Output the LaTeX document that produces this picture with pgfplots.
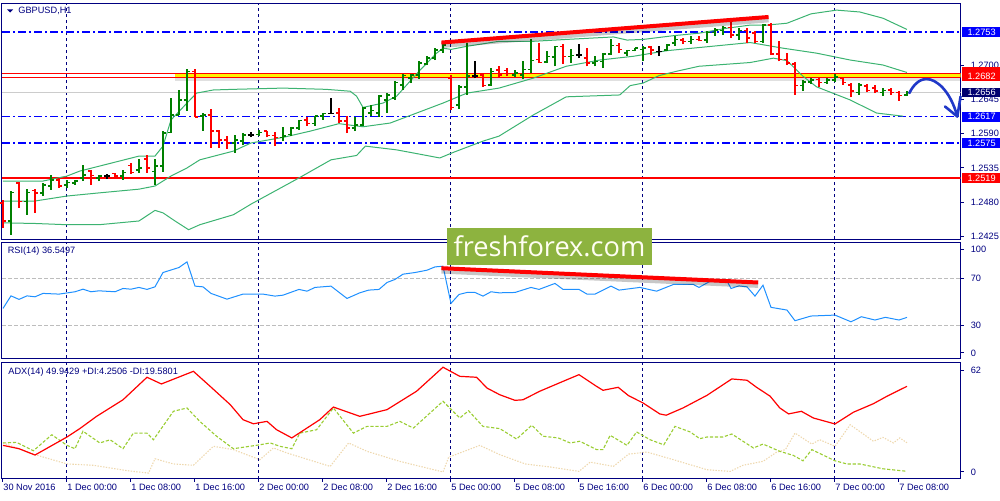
\documentclass[border=0pt]{standalone}
\usepackage{fontspec}
\setmainfont{Liberation Sans}
\newfontfamily\wmfont{Open Sans}
\usepackage{pgfplots}
\usepackage{pgfplotstable}
\pgfplotsset{compat=1.18}

\definecolor{mtnavy}{HTML}{000080}
\definecolor{upbar}{HTML}{008000}
\definecolor{bband}{HTML}{3CB371}
\definecolor{rsiblue}{HTML}{1E90FF}
\definecolor{plusdi}{HTML}{9ACD32}
\definecolor{minusdi}{HTML}{EED8AE}
\definecolor{lvlblue}{HTML}{0000FF}
\definecolor{wmgreen}{HTML}{8DB33F}
\definecolor{arrowblue}{HTML}{2038C8}
\definecolor{bidgray}{HTML}{CCCCCC}
\definecolor{boxnavy}{HTML}{000070}

\newcommand\mtfont{\fontsize{4.6}{5.2}\selectfont}

\pgfdeclareplotmark{otick}{\pgfpathmoveto{\pgfqpoint{-\pgfplotmarksize}{0pt}}\pgfpathlineto{\pgfqpoint{0pt}{0pt}}\pgfusepathqstroke}
\pgfdeclareplotmark{ctick}{\pgfpathmoveto{\pgfqpoint{0pt}{0pt}}\pgfpathlineto{\pgfqpoint{\pgfplotmarksize}{0pt}}\pgfusepathqstroke}

% GBPUSD H1 bars, x = hours from 1 Dec 00:00 (weekend skipped), t = 1 up, -1 down, 0 doji
\pgfplotstableread{
x o h l c t
-8 1.2479 1.2484 1.2439 1.2450 -1
-7 1.2450 1.2498 1.2428 1.2496 1
-6 1.2511 1.2512 1.2471 1.2481 -1
-5 1.2481 1.2501 1.2460 1.2496 1
-4 1.2499 1.2501 1.2463 1.2495 -1
-3 1.2495 1.2511 1.2490 1.2508 1
-2 1.2506 1.2523 1.2500 1.2516 1
-1 1.2516 1.2519 1.2503 1.2506 -1
0 1.2508 1.2516 1.2503 1.2512 1
1 1.2511 1.2516 1.2508 1.2514 1
2 1.2519 1.2540 1.2514 1.2524 1
3 1.2530 1.2532 1.2508 1.2523 -1
4 1.2519 1.2524 1.2514 1.2522 1
5 1.2522 1.2526 1.2517 1.2522 0
6 1.2526 1.2527 1.2519 1.2522 -1
7 1.2522 1.2531 1.2516 1.2528 1
8 1.2539 1.2543 1.2526 1.2528 -1
9 1.2532 1.2549 1.2527 1.2535 1
10 1.2549 1.2555 1.2527 1.2535 -1
11 1.2529 1.2549 1.2507 1.2538 1
12 1.2538 1.2595 1.2529 1.2591 1
13 1.2592 1.2647 1.2591 1.2620 1
14 1.2620 1.2660 1.2620 1.2644 1
15 1.2644 1.2693 1.2626 1.2690 1
16 1.2690 1.2693 1.2617 1.2617 -1
17 1.2618 1.2623 1.2595 1.2620 1
18 1.2620 1.2630 1.2567 1.2594 -1
19 1.2594 1.2596 1.2567 1.2580 -1
20 1.2580 1.2587 1.2566 1.2575 -1
21 1.2575 1.2588 1.2559 1.2580 1
22 1.2578 1.2591 1.2571 1.2588 1
23 1.2588 1.2592 1.2584 1.2588 0
24 1.2589 1.2596 1.2586 1.2592 1
25 1.2594 1.2595 1.2584 1.2587 -1
26 1.2587 1.2593 1.2570 1.2584 -1
27 1.2584 1.2600 1.2578 1.2586 1
28 1.2589 1.2600 1.2586 1.2599 1
29 1.2599 1.2612 1.2596 1.2611 1
30 1.2612 1.2617 1.2603 1.2606 -1
31 1.2606 1.2619 1.2603 1.2618 1
32 1.2618 1.2623 1.2612 1.2622 1
33 1.2622 1.2647 1.2622 1.2622 0
34 1.2623 1.2631 1.2607 1.2610 -1
35 1.2610 1.2618 1.2591 1.2599 -1
36 1.2599 1.2617 1.2594 1.2604 1
37 1.2604 1.2632 1.2602 1.2631 1
38 1.2623 1.2636 1.2618 1.2627 1
39 1.2623 1.2652 1.2617 1.2650 1
40 1.2644 1.2655 1.2623 1.2652 1
41 1.2647 1.2675 1.2644 1.2672 1
42 1.2668 1.2686 1.2660 1.2683 1
43 1.2679 1.2686 1.2671 1.2684 1
44 1.2684 1.2706 1.2678 1.2703 1
45 1.2702 1.2714 1.2700 1.2711 1
46 1.2711 1.2727 1.2708 1.2724 1
47 1.2724 1.2735 1.2719 1.2732 1
48 1.2679 1.2684 1.2628 1.2632 -1
49 1.2636 1.2668 1.2630 1.2665 1
50 1.2665 1.2736 1.2652 1.2682 1
51 1.2682 1.2707 1.2679 1.2682 0
52 1.2684 1.2687 1.2665 1.2667 -1
53 1.2668 1.2695 1.2667 1.2690 1
54 1.2692 1.2698 1.2681 1.2684 -1
55 1.2691 1.2695 1.2682 1.2686 -1
56 1.2684 1.2692 1.2681 1.2687 1
57 1.2684 1.2707 1.2677 1.2693 1
58 1.2693 1.2741 1.2688 1.2707 1
59 1.2709 1.2736 1.2703 1.2704 -1
60 1.2705 1.2722 1.2703 1.2714 1
61 1.2713 1.2731 1.2698 1.2730 1
62 1.2730 1.2734 1.2702 1.2714 -1
63 1.2714 1.2725 1.2703 1.2715 1
64 1.2716 1.2734 1.2711 1.2716 0
65 1.2711 1.2728 1.2698 1.2703 -1
66 1.2703 1.2714 1.2698 1.2706 1
67 1.2706 1.2719 1.2695 1.2718 1
68 1.2718 1.2741 1.2716 1.2731 1
69 1.2731 1.2735 1.2719 1.2725 -1
70 1.2719 1.2724 1.2715 1.2723 1
71 1.2723 1.2728 1.2722 1.2727 1
72 1.2725 1.2730 1.2706 1.2727 1
73 1.2729 1.2731 1.2716 1.2724 -1
74 1.2722 1.2730 1.2715 1.2722 0
75 1.2724 1.2734 1.2722 1.2732 1
76 1.2735 1.2746 1.2731 1.2741 1
77 1.2740 1.2744 1.2734 1.2738 -1
78 1.2738 1.2746 1.2734 1.2741 1
79 1.2741 1.2747 1.2738 1.2739 -1
80 1.2740 1.2754 1.2735 1.2752 1
81 1.2752 1.2760 1.2747 1.2756 1
82 1.2755 1.2763 1.2748 1.2760 1
83 1.2760 1.2772 1.2743 1.2748 -1
84 1.2748 1.2759 1.2740 1.2755 1
85 1.2755 1.2759 1.2736 1.2743 -1
86 1.2751 1.2754 1.2735 1.2738 -1
87 1.2738 1.2766 1.2735 1.2764 1
88 1.2764 1.2767 1.2716 1.2718 -1
89 1.2718 1.2739 1.2706 1.2709 -1
90 1.2709 1.2720 1.2700 1.2703 -1
91 1.2702 1.2705 1.2652 1.2667 -1
92 1.2667 1.2676 1.2658 1.2673 1
93 1.2673 1.2679 1.2670 1.2676 1
94 1.2677 1.2680 1.2665 1.2672 -1
95 1.2672 1.2679 1.2670 1.2676 1
96 1.2676 1.2686 1.2672 1.2681 1
97 1.2679 1.2681 1.2668 1.2672 -1
98 1.2668 1.2671 1.2648 1.2658 -1
99 1.2656 1.2671 1.2652 1.2668 1
100 1.2666 1.2670 1.2656 1.2659 -1
101 1.2663 1.2668 1.2655 1.2658 -1
102 1.2656 1.2663 1.2650 1.2659 1
103 1.2660 1.2663 1.2652 1.2656 -1
104 1.2656 1.2659 1.2643 1.2651 -1
105 1.2652 1.2659 1.2650 1.2656 1
}\ohlc

% Bollinger bands
\pgfplotstableread{
x y
-8 1.2514
-3 1.2514
0 1.2522
1.6 1.2530
9 1.2554
11 1.2554
12 1.2570
13 1.2612
15 1.2639
16.2 1.2655
18.3 1.2660
20.8 1.2661
27 1.2663
32.4 1.2661
35.4 1.2658
36.2 1.2650
37 1.2632
39.5 1.2639
41.2 1.2650
44 1.2690
46.2 1.2719
47 1.2727
48 1.2725
50 1.2730
54 1.2738
58.3 1.2738
62.4 1.2741
68.3 1.2745
70 1.2740
72 1.2741
75.8 1.2747
79 1.2751
82.5 1.2759
85.4 1.2764
87.5 1.2764
90 1.2767
93 1.2782
96.2 1.2788
99.1 1.2785
102 1.2775
105 1.2757
}\bbup
\pgfplotstableread{
x y
-8 1.2482
-4 1.2482
0 1.2490
4 1.2495
9 1.2501
11 1.2506
13 1.2522
15 1.2535
16.6 1.2548
20.8 1.2562
23 1.2575
27 1.2584
30.4 1.2594
34 1.2606
37 1.2601
40.4 1.2607
43.7 1.2623
47 1.2639
50 1.2655
54 1.2663
58.3 1.2679
62.4 1.2698
66.6 1.2708
70.8 1.2714
75 1.2723
79 1.2728
85.4 1.2736
89.5 1.2727
93.7 1.2719
97.9 1.2708
102 1.2700
105 1.2688
}\bbmid
\pgfplotstableread{
x y
-8 1.2447
-4 1.2446
0 1.2444
4 1.2444
9 1.2450
11 1.2467
12 1.2463
13.5 1.2450
15.2 1.2436
16.6 1.2444
20.8 1.2460
23 1.2477
29 1.2519
33 1.2548
36.2 1.2555
37.3 1.2570
41.2 1.2564
43.3 1.2559
46.6 1.2551
48.3 1.2560
52 1.2578
54 1.2586
58.3 1.2620
62.4 1.2649
69.1 1.2652
70.4 1.2667
72 1.2671
74 1.2683
76.2 1.2690
79 1.2698
85.4 1.2704
88.3 1.2711
90 1.2707
92 1.2682
93.7 1.2665
97.9 1.2644
101.2 1.2623
104.5 1.2618
}\bblow

% RSI(14)
\pgfplotstableread{
x y
-8 44.2
-7 54.9
-6 51.9
-5 54.9
-4 54.1
-3 57.0
-1 56.4
1 58.4
2 60.6
3 58.4
4 59.2
6 58.4
7 61.2
8 60.6
9 62.1
10 60.4
11 62.6
12 74.8
14 79.1
15 83.9
16 63.2
17 62.6
18 57.0
20 52.1
22 56.4
24.5 56.4
26 54.7
27 55.5
29 60.4
30 58.9
31 62.1
33 63.2
35 52.7
36.6 57.5
37.7 59.8
39 60.4
40 66.3
41 68.9
42 73.4
43.5 74.8
45 76.8
46 79.6
47 80.2
48 48.5
49 56.1
50 57.8
51 57.8
52 54.7
53 58.4
54 57.5
56 57.8
58 62.1
59 60.4
61 65.5
62 60.4
64 60.4
65 56.4
66 56.4
68 63.2
69 59.8
71.6 62.1
73.7 58.9
75.8 64.6
78.3 64.6
79 62.1
80.4 67.4
81.6 66.9
82.5 67.7
83 61.2
84 63.4
85 62.6
86 54.7
87 64.0
88 45.1
90 42.8
91 33.7
93 37.7
96 38.5
98 32.8
99.3 37.1
101 34.3
102.3 36.6
104 34.3
105 36.55
}\rsi

% ADX(14)
\pgfplotstableread{
x y
-8 18.2
-6 16.4
-4 13.0
0 22.7
1.6 27.2
3.7 33.8
7 42.7
10 54.8
11.8 51.2
15.8 58.0
17.9 49.9
20.4 40.1
22 32.0
23.3 29.8
25 31.1
26.2 26.6
28.1 22.2
31.6 32.0
33.3 38.8
36.6 33.8
40 37.4
43.7 47.3
47 60.2
49.1 55.3
51.2 54.8
52.5 49.0
54.1 45.4
56 42.4
57 42.7
59.1 47.3
62.5 53.5
64 56.2
66.2 49.9
67 47.8
68.9 49.4
70.2 44.9
72 41.0
74.1 35.1
74.9 34.4
77 38.3
80 45.1
83.1 53.9
85 53.2
86.2 49.4
87.9 44.6
89.1 38.3
90.2 35.1
91.8 36.5
93.3 32.9
96 29.7
98.3 36.0
100.8 40.6
102.5 44.6
105 49.94
}\adx
\pgfplotstableread{
x y
-8 19.5
-6.3 19.8
-4.2 15.3
-1.9 23.9
0 18.2
1 16.4
2 25.8
4.1 19.5
5.4 21.2
7 16.4
8.3 24.8
10 24.8
10.8 21.2
13.3 36.5
15 38.3
16.6 31.1
18.7 23.1
20.8 16.4
24.1 18.5
25.4 19.5
26.6 17.7
28.1 16.4
29.1 24.8
31.2 26.6
33.3 38.3
35.8 24.8
37.5 28.4
40 28.4
41.6 31.1
43.3 27.5
47 41.9
49.1 32.9
50.2 36.8
52 28.4
54.1 27.2
56.2 21.6
58.1 29.0
59.5 23.1
61.4 22.2
62.9 19.5
64.1 20.4
66.2 15.9
67 15.9
67.9 23.6
70 18.2
71.2 25.4
72.9 21.2
74.6 18.5
76 28.4
77.9 25.4
79.1 21.8
80 22.7
82 22.7
83.1 24.3
85.8 16.8
87 18.9
89.1 15.0
90.8 12.8
92 9.9
93.1 15.9
96 9.9
97.5 8.2
99.1 8.2
102 5.6
105 4.25
}\pdi
\pgfplotstableread{
x y
-8 19.5
-4 13.2
0 8.2
3.3 7.5
7.5 4.6
10.2 3.3
11 11.0
13.3 8.2
15.8 7.5
18.3 17.7
20.8 15.9
24.1 10.5
25.8 16.8
27.5 14.1
32.9 6.9
35.2 19.5
37.5 15.0
41.6 9.6
47 3.9
47.7 11.8
51.6 18.2
54.1 13.2
57.3 8.2
60.7 6.4
64 4.2
65.4 9.2
68.3 6.9
70.2 13.5
72.5 14.6
75.8 10.5
80 5.1
82.9 4.2
84.5 7.5
87 9.6
88.7 14.5
89.8 15.9
91 24.8
93.1 18.9
94.1 21.2
96 17.7
97.9 29.3
100.8 20.4
102 22.5
103.3 19.5
104.1 22.2
105 19.58
}\mdi

\newcommand\ohlcbars[3]{%
  \addplot[draw=none, no markers, forget plot,
    restrict expr to domain={\thisrow{t}}{#2:#3},
    error bars/.cd, y dir=plus, y explicit, error mark=none,
    error bar style={draw=#1, solid, line width=0.75pt}]
    table[x=x, y=l, y error expr={\thisrow{h}-\thisrow{l}}] {\ohlc};
  \addplot[color=#1, only marks, mark=otick, mark size=1.6pt,
    mark options={line width=0.75pt}, forget plot,
    restrict expr to domain={\thisrow{t}}{#2:#3}] table[x=x, y=o] {\ohlc};
  \addplot[color=#1, only marks, mark=ctick, mark size=1.6pt,
    mark options={line width=0.75pt}, forget plot,
    restrict expr to domain={\thisrow{t}}{#2:#3}] table[x=x, y=c] {\ohlc};
}

\pgfplotsset{
  mtpanel/.style={
    scale only axis, width=479.25pt, anchor=south west,
    xmin=-8.125, xmax=111.69,
    axis line style={mtnavy, line width=0.5pt},
    ticklabel style={font=\mtfont, text=mtnavy},
    xtick={0,24,48,72,96}, xticklabels={}, xmajorgrids,
    xtick style={draw=none},
    ytick style={mtnavy, line width=0.5pt},
    grid style={mtnavy, line width=0.5pt, dash pattern=on 1.5pt off 1.5pt},
    ytick pos=right, yticklabel pos=right,
    tick align=outside, major tick length=1.6pt,
    clip mode=individual,
    /pgf/number format/assume math mode=true,
  },
  hline/.style={forget plot, line width=0.6pt},
}

\begin{document}
\begin{tikzpicture}
\useasboundingbox (0,0) rectangle (500pt,250pt);

% ---- price panel
\begin{axis}[mtpanel, at={(1pt,130.5pt)}, height=118pt,
  ymin=1.24211, ymax=1.27994,
  ytick={1.2425,1.2480,1.2535,1.2590,1.2645,1.2700},
  yticklabels={1.2425,1.2480,1.2535,1.2590,1.2645,1.2700}]
\addplot[hline, bidgray] coordinates {(-8.125,1.2656) (111.69,1.2656)};
\addplot[hline, lvlblue, dash pattern=on 4pt off 1.5pt on 1pt off 1.5pt] coordinates {(-8.125,1.2753) (111.69,1.2753)};
\addplot[hline, lvlblue, dash pattern=on 4pt off 1.5pt on 1pt off 1.5pt] coordinates {(-8.125,1.2617) (111.69,1.2617)};
\addplot[hline, lvlblue, dash pattern=on 4pt off 1.5pt on 1pt off 1.5pt] coordinates {(-8.125,1.2575) (111.69,1.2575)};
\addplot[hline, red] coordinates {(-8.125,1.2519) (111.69,1.2519)};
% yellow zone
\addplot[forget plot, draw=none, fill=black, fill opacity=0.12] coordinates {(13.5,1.2680) (111.69,1.2680) (111.69,1.2674) (13.5,1.2674)} -- cycle;
\addplot[forget plot, draw=none, fill=yellow] coordinates {(13.5,1.26805) (111.69,1.26805) (111.69,1.26869) (13.5,1.26869)} -- cycle;
\addplot[hline, red] coordinates {(-8.125,1.26869) (111.69,1.26869)};
\addplot[hline, red] coordinates {(-8.125,1.26805) (111.69,1.26805)};
% Bollinger bands
\addplot[bband, line width=0.5pt, forget plot] table {\bbup};
\addplot[bband, line width=0.5pt, forget plot] table {\bbmid};
\addplot[bband, line width=0.5pt, forget plot] table {\bblow};
% bars
\ohlcbars{upbar}{0.5}{1.5}
\ohlcbars{red}{-1.5}{-0.5}
\ohlcbars{black}{-0.5}{0.5}
% trend line
\addplot[forget plot, black, opacity=0.22, line width=2.8pt, yshift=-1.3pt] coordinates {(46.8,1.2736) (87.7,1.2777)};
\addplot[forget plot, red, line width=2pt] coordinates {(46.8,1.2736) (87.7,1.2777)};
% forecast arrow
\draw[arrowblue, line width=1.3pt, line cap=round, line join=round]
  (axis cs:105.29,1.2655) .. controls (axis cs:105.8,1.2668) and (axis cs:106.5,1.26775) .. (axis cs:107.46,1.26775)
  .. controls (axis cs:108.6,1.26775) and (axis cs:110.4,1.2660) .. (axis cs:111.29,1.26175);
\draw[arrowblue, line width=1.3pt, line cap=round, line join=round]
  (axis cs:109.75,1.26335) -- (axis cs:111.29,1.26175) -- (axis cs:111.7,1.26495);
\coordinate (pa) at (axis cs:111.69,1.2753);
\coordinate (pb) at (axis cs:111.69,1.2689);
\coordinate (pc) at (axis cs:111.69,1.2682);
\coordinate (pd) at (axis cs:111.69,1.2656);
\coordinate (pe) at (axis cs:111.69,1.2617);
\coordinate (pf) at (axis cs:111.69,1.2575);
\coordinate (pg) at (axis cs:111.69,1.2519);
\end{axis}

% ---- RSI panel
\begin{axis}[mtpanel, at={(1pt,71pt)}, height=57.75pt,
  ymin=1.9, ymax=100.4,
  ytick={6.2,30,70,94.7}, yticklabels={0,30,70,100}]
\addplot[hline, bidgray!80!gray, line width=0.5pt, dash pattern=on 2pt off 1pt] coordinates {(-8.125,70) (111.69,70)};
\addplot[hline, bidgray!80!gray, line width=0.5pt, dash pattern=on 2pt off 1pt] coordinates {(-8.125,30) (111.69,30)};
\addplot[rsiblue, line width=0.5pt, forget plot] table {\rsi};
\addplot[forget plot, black, opacity=0.22, line width=2.8pt, yshift=-1.3pt] coordinates {(46.8,78.5) (86.4,66.3)};
\addplot[forget plot, red, line width=2pt] coordinates {(46.8,78.5) (86.4,66.3)};
\end{axis}

% ---- ADX panel
\begin{axis}[mtpanel, at={(1pt,10.75pt)}, height=58.25pt,
  ymin=0.38, ymax=63,
  ytick={3.9,58.7}, yticklabels={0,62},
  xmajorgrids=false, xtick pos=left,
  xtick={-8,0,...,104},
  xticklabels={30 Nov 2016,1 Dec 00:00,1 Dec 08:00,1 Dec 16:00,2 Dec 00:00,2 Dec 08:00,2 Dec 16:00,5 Dec 00:00,5 Dec 08:00,5 Dec 16:00,6 Dec 00:00,6 Dec 08:00,6 Dec 16:00,7 Dec 00:00,7 Dec 08:00},
  xtick style={draw=mtnavy, line width=0.5pt},
  xticklabel style={anchor=north west, inner xsep=0pt, inner ysep=1pt},
  extra x ticks={0,24,48,72,96}, extra x tick labels={},
  extra x tick style={grid=major, major tick length=0pt}]
\addplot[minusdi, line width=0.55pt, dash pattern=on 0.7pt off 0.7pt, forget plot] table {\mdi};
\addplot[plusdi, line width=0.55pt, dash pattern=on 1.6pt off 0.9pt, forget plot] table {\pdi};
\addplot[red, line width=0.6pt, forget plot] table {\adx};
\end{axis}

% price boxes on the right scale
\tikzset{pbox/.style={anchor=west, inner xsep=2.6pt, inner ysep=0pt, minimum height=4.9pt,
  minimum width=18.3pt, text=white, font=\mtfont, xshift=0.7pt}}
\node[pbox, fill=lvlblue] at (pa) {1.2753};
\node[pbox, fill=red] at (pb) {\phantom{1.2689}};
\node[pbox, fill=red] at (pc) {1.2682};
\node[pbox, fill=boxnavy] at (pd) {1.2656};
\node[pbox, fill=lvlblue] at (pe) {1.2617};
\node[pbox, fill=lvlblue] at (pf) {1.2575};
\node[pbox, fill=red] at (pg) {1.2519};

% window captions
\fill[mtnavy] (3.5pt,245.3pt) -- (6.6pt,245.3pt) -- (5.05pt,243.7pt) -- cycle;
\node[anchor=west, inner sep=0pt, font=\mtfont, text=mtnavy] at (9pt,244.5pt) {GBPUSD,H1};
\node[anchor=west, inner sep=0pt, font=\mtfont, text=mtnavy] at (3.7pt,124.2pt) {RSI(14) 36.5497};
\node[anchor=west, inner sep=0pt, font=\mtfont, text=mtnavy] at (4pt,64pt) {ADX(14) 49.9429 +DI:4.2506 -DI:19.5801};

% watermark
\node[fill=wmgreen, minimum width=102.5pt, minimum height=18.5pt, inner sep=0pt,
  text=white!95!yellow, font=\wmfont\fontsize{13.6}{14}\selectfont] at (274.75pt,126.75pt) {freshforex.com};
\end{tikzpicture}
\end{document}
